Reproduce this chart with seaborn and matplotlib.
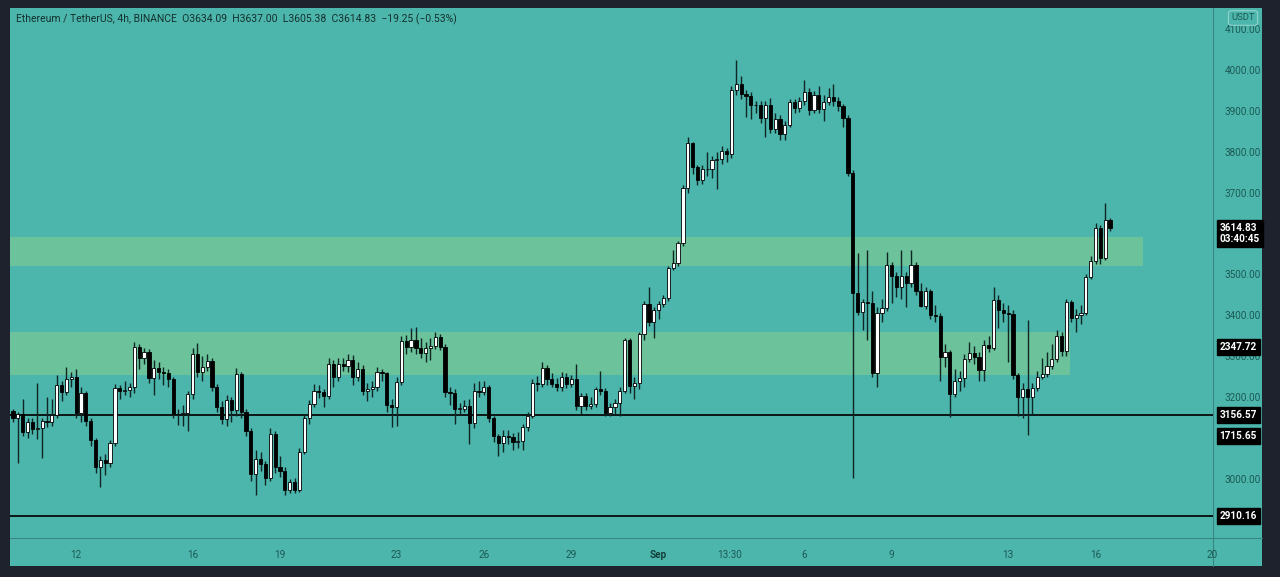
import numpy as np
import pandas as pd
import matplotlib
matplotlib.use("Agg")
import matplotlib.pyplot as plt
import matplotlib.transforms as mtransforms
from matplotlib.patches import Rectangle
import seaborn as sns

# ---------------- data (4h candles, ETH/USDT) ----------------
opens = [3166,3149,3159,3115,3139,3122,3124,3142,3140,3156,3230,3213,3245,3250,3161,3210,3142,3095,3029,3046,
         3040,3088,3222,3215,3218,3225,3323,3296,3310,3247,3271,3262,3260,3245,3158,3160,3162,3208,3306,3262,
         3275,3289,3225,3176,3147,3193,3169,3257,3164,3118,3012,3049,3037,3003,3110,3029,3020,2973,2993,2973,
         3066,3149,3183,3215,3213,3203,3281,3250,3282,3276,3291,3250,3270,3215,3220,3225,3262,3258,3181,3176,
         3237,3337,3323,3340,3320,3308,3320,3325,3347,3323,3213,3210,3171,3171,3179,3137,3215,3213,3225,3149,
         3105,3088,3105,3103,3091,3093,3127,3154,3235,3232,3271,3245,3232,3225,3250,3232,3245,3179,3203,3179,
         3184,3220,3215,3161,3176,3186,3215,3340,3227,3235,3355,3428,3384,3413,3428,3443,3516,3528,3577,3711,
         3821,3762,3730,3757,3758,3780,3783,3802,3795,3951,3966,3941,3937,3915,3914,3883,3915,3856,3880,3843,
         3866,3922,3907,3925,3946,3902,3939,3905,3922,3935,3924,3912,3883,3748,3455,3408,3433,3430,3259,3406,
         3418,3523,3496,3469,3496,3479,3523,3460,3423,3460,3401,3399,3298,3311,3208,3240,3247,3293,3308,3298,
         3267,3328,3320,3438,3413,3406,3404,3254,3201,3220,3201,3222,3250,3257,3276,3293,3350,3313,3433,3394,
         3401,3406,3494,3533,3613,3540,3634.09]
closes = [3149,3159,3115,3139,3122,3124,3142,3140,3156,3230,3213,3245,3250,3161,3210,3142,3095,3029,3046,3040,
          3088,3222,3215,3218,3225,3323,3296,3310,3247,3271,3262,3260,3245,3158,3160,3162,3208,3306,3262,3275,
          3289,3225,3176,3147,3193,3169,3257,3164,3118,3012,3049,3037,3003,3110,3029,3020,2973,2993,2973,3066,
          3149,3183,3215,3213,3203,3281,3250,3282,3276,3291,3250,3270,3215,3220,3225,3262,3258,3181,3176,3237,
          3337,3323,3340,3320,3308,3320,3325,3347,3323,3213,3210,3171,3171,3179,3137,3215,3213,3225,3149,3105,
          3088,3105,3103,3091,3093,3127,3154,3235,3232,3271,3245,3232,3225,3250,3232,3245,3179,3203,3179,3184,
          3220,3215,3161,3176,3186,3215,3340,3227,3235,3355,3428,3384,3413,3428,3443,3516,3528,3577,3711,3821,
          3762,3730,3757,3758,3780,3783,3802,3795,3951,3966,3941,3937,3915,3914,3883,3915,3856,3880,3843,3866,
          3922,3907,3925,3946,3902,3939,3905,3922,3935,3924,3912,3883,3748,3455,3408,3433,3430,3259,3406,3418,
          3523,3496,3469,3496,3479,3523,3460,3423,3460,3401,3399,3298,3311,3208,3240,3247,3293,3308,3298,3267,
          3328,3320,3438,3413,3406,3404,3254,3201,3220,3201,3222,3250,3257,3276,3293,3350,3313,3433,3394,3401,
          3406,3494,3533,3613,3540,3634,3614.83]
highs = [3172,3165,3195,3148,3150,3235,3150,3200,3195,3255,3240,3274,3262,3268,3225,3215,3150,3100,3055,3060,
         3095,3232,3230,3240,3235,3335,3330,3320,3318,3290,3285,3275,3270,3250,3170,3180,3215,3320,3333,3300,
         3305,3295,3232,3190,3205,3200,3272,3262,3170,3125,3070,3065,3045,3125,3118,3055,3030,3000,3003,3075,
         3160,3193,3232,3230,3220,3295,3290,3297,3296,3305,3302,3285,3278,3235,3240,3275,3270,3262,3195,3250,
         3350,3352,3370,3372,3345,3335,3345,3360,3355,3330,3225,3220,3185,3192,3195,3235,3240,3240,3230,3155,
         3110,3120,3120,3112,3115,3135,3165,3245,3252,3285,3278,3260,3248,3262,3258,3255,3280,3210,3210,3200,
         3226,3265,3222,3185,3195,3225,3345,3345,3250,3360,3435,3470,3420,3435,3450,3520,3560,3582,3720,3835,
         3825,3768,3768,3800,3790,3800,3815,3810,3960,4024,3985,3952,3945,3925,3925,3925,3932,3895,3890,3876,
         3930,3930,3935,3975,3955,3948,3962,3940,3955,3965,3935,3918,3890,3755,3552,3440,3560,3460,3420,3440,
         3555,3530,3505,3560,3505,3560,3530,3480,3470,3465,3425,3405,3330,3315,3270,3265,3305,3335,3325,3310,
         3340,3350,3470,3450,3430,3425,3412,3260,3235,3389,3235,3265,3295,3310,3330,3365,3360,3440,3438,3415,
         3425,3500,3545,3625,3620,3675,3637.00]
lows = [3140,3040,3105,3100,3110,3098,3052,3128,3130,3150,3190,3205,3225,3150,3140,3130,3080,3015,2980,3010,
        3030,3080,3195,3205,3200,3210,3270,3282,3235,3205,3245,3230,3225,3150,3132,3130,3118,3195,3250,3240,
        3265,3215,3165,3135,3130,3140,3155,3150,3105,2995,2960,3020,2985,2995,3015,3005,2960,2965,2966,2968,
        3060,3135,3175,3198,3175,3195,3225,3240,3265,3262,3230,3240,3205,3190,3200,3215,3240,3165,3127,3130,
        3230,3305,3310,3305,3295,3285,3290,3318,3315,3200,3180,3135,3160,3165,3085,3125,3200,3205,3140,3090,
        3055,3065,3085,3070,3075,3070,3118,3148,3215,3225,3230,3225,3215,3215,3222,3225,3168,3160,3168,3172,
        3175,3205,3155,3155,3160,3155,3210,3210,3195,3220,3340,3375,3345,3390,3420,3435,3510,3520,3570,3700,
        3745,3720,3722,3740,3735,3710,3770,3775,3785,3940,3930,3885,3880,3895,3870,3835,3845,3845,3828,3830,
        3860,3895,3898,3915,3890,3895,3895,3875,3915,3912,3900,3860,3740,3002,3400,3365,3340,3250,3225,3385,
        3410,3430,3445,3440,3420,3470,3450,3420,3415,3390,3385,3240,3275,3152,3200,3215,3225,3285,3280,3240,
        3240,3310,3315,3370,3385,3285,3245,3155,3148,3108,3160,3215,3245,3250,3270,3285,3300,3300,3385,3360,
        3380,3400,3490,3525,3525,3535,3605.38]

# Zones and levels
zone_upper = (3521, 3592, 232.8)     # low, high, right end (candle index)
zone_lower = (3254, 3359, 217.8)
level_prices = [3156.57, 2910.16]
tag_prices = [3600, 3322.7, 3156.57, 3105, 2910.16]
tag_texts = ["3614.83\n03:40:45", "2347.72", "3156.57", "1715.65", "2910.16"]
ytick_vals = [3000, 3200, 3300, 3400, 3500, 3700, 3800, 3900, 4000, 4100]
xtick_day_offsets = [0, 4, 7, 11, 14, 17, 20, 22.45, 25, 28, 32, 35, 39]   # days after Aug 12
xtick_labels = ["12", "16", "19", "23", "26", "29", "Sep", "13:30", "6", "9", "13", "16", "20"]
header = "Ethereum / TetherUS, 4h, BINANCE  O3634.09  H3637.00  L3605.38  C3614.83  \u221219.25 (\u22120.53%)"

df = pd.DataFrame({"open": opens, "high": highs, "low": lows, "close": closes})
df["idx"] = np.arange(len(df))
df["up"] = df["close"] >= df["open"]

# ---------------- style ----------------
sns.set_theme(style="white")
plt.rcParams["font.family"] = ["Roboto", "DejaVu Sans"]

TEAL = "#4db6ac"
ZONE = "#6cc29b"
FRAME = "#1e222d"
TXT = "#1b5a55"

W, H = 1280, 577
fig = plt.figure(figsize=(W / 100, H / 100), dpi=100, facecolor=FRAME)
bg = Rectangle((10 / W, 1 - 566 / H), 1252 / W, 558 / H, transform=fig.transFigure,
               facecolor=TEAL, edgecolor="none", zorder=-10)
fig.patches.append(bg)
ax = fig.add_axes([10 / W, 1 - 538 / H, 1203 / W, 530 / H])
ax.set_zorder(1)
ax.set_facecolor(TEAL)
for s in ax.spines.values():
    s.set_visible(False)

# separators of the price / time scale
fig.add_artist(plt.Line2D([1213 / W, 1213 / W], [1 - 566 / H, 1 - 8 / H], transform=fig.transFigure,
                          color="#37877f", lw=0.8, zorder=-5))
fig.add_artist(plt.Line2D([10 / W, 1262 / W], [1 - 538 / H, 1 - 538 / H], transform=fig.transFigure,
                          color="#37877f", lw=0.8, zorder=-5))

# zones
for lo, hi, xr in [zone_upper, zone_lower]:
    ax.fill_between([-1, xr], lo, hi, color=ZONE, lw=0, zorder=1)

# levels
for p in level_prices:
    ax.axhline(p, color="#0b1716", lw=1.4, zorder=2)

# candles
ax.vlines(df["idx"], df["low"], df["high"], color="#0f2624", lw=1.0, zorder=3)
body_bottom = np.minimum(df["open"], df["close"])
body_h = np.maximum(np.abs(df["close"] - df["open"]), 1.5)
ax.bar(df["idx"], body_h, bottom=body_bottom, width=0.66,
       color=np.where(df["up"], "white", "black"), edgecolor="black", linewidth=0.6, zorder=4)

ax.set_xlim(-0.62, 247.2)
ax.set_ylim(2855.7, 4151.6)

# ticks
ax.yaxis.tick_right()
ax.set_yticks(ytick_vals)
ax.set_yticklabels([f"{v:.2f}" for v in ytick_vals])
ax.tick_params(axis="y", length=0, pad=8.6, labelsize=7.2, labelcolor=TXT)
xpos = [13 + 6 * d for d in xtick_day_offsets]
ax.set_xticks(xpos)
ax.set_xticklabels(xtick_labels)
ax.tick_params(axis="x", length=0, pad=9, labelsize=7.2, labelcolor=TXT)
for t in ax.get_xticklabels():
    if t.get_text() == "Sep":
        t.set_fontweight("bold")
        t.set_color("#123f3b")
ax.grid(False)

# price tags
trans = mtransforms.blended_transform_factory(ax.transAxes, ax.transData)
for p, t in zip(tag_prices, tag_texts):
    ax.text(1.0055, p, t, transform=trans, ha="left", va="center", fontsize=7.2, fontweight="bold",
            color="white", linespacing=1.15, clip_on=False, zorder=10,
            bbox=dict(boxstyle="square,pad=0.3", fc="black", ec="black"))

# header and currency box
fig.text(16 / W, 1 - 19 / H, header, fontsize=7.5, color="#14302d", va="center", ha="left")
fig.text(1243 / W, 1 - 18 / H, "USDT", fontsize=6.8, color=TXT, va="center", ha="center",
         bbox=dict(boxstyle="round,pad=0.3", fc=TEAL, ec="#8fd3cb", lw=0.8))

fig.savefig("out.png", dpi=100, facecolor=FRAME)
